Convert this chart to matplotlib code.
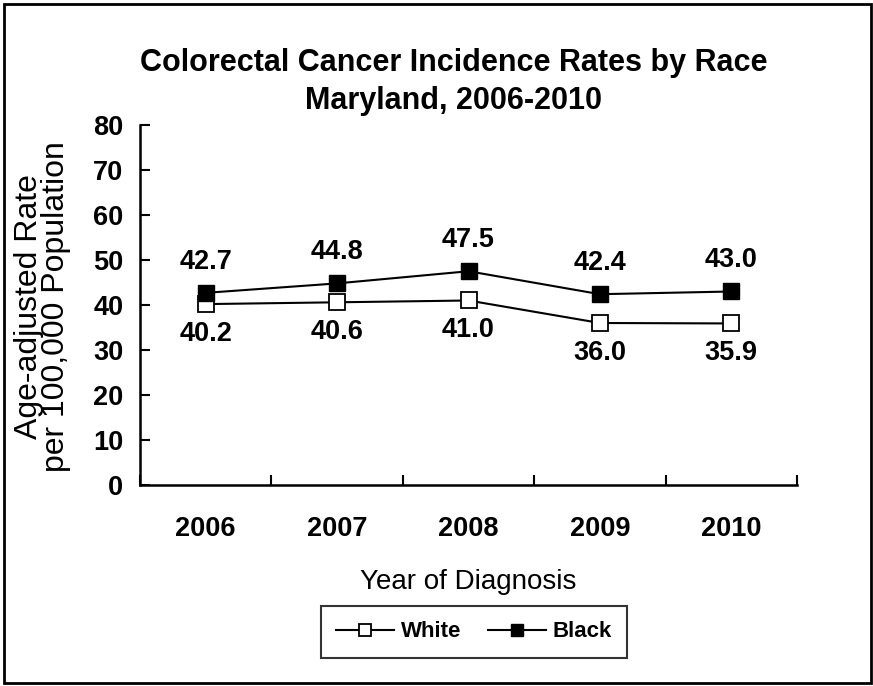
import matplotlib
matplotlib.use("Agg")
import matplotlib.pyplot as plt
import numpy as np
from matplotlib.patches import Rectangle

years = ["2006", "2007", "2008", "2009", "2010"]
white = [40.2, 40.6, 41.0, 36.0, 35.9]
black = [42.7, 44.8, 47.5, 42.4, 43.0]
y_ticks = [0, 10, 20, 30, 40, 50, 60, 70, 80]

FONT = ["Liberation Sans", "DejaVu Sans"]
plt.rcParams["font.family"] = FONT

fig = plt.figure(figsize=(8.73, 6.86), dpi=100)
ax = fig.add_axes([0.1604, 0.2930, 0.7526, 0.5248])

x = np.arange(len(years))
ax.plot(x, white, color="black", linewidth=1.5, marker="s", markersize=11,
        markerfacecolor="white", markeredgecolor="black", markeredgewidth=1.3,
        label="White", zorder=3)
ax.plot(x, black, color="black", linewidth=1.5, marker="s", markersize=11,
        markerfacecolor="black", markeredgecolor="black",
        label="Black", zorder=4)

# value labels: Black above the line, White below
for xi, v in zip(x, black):
    ax.annotate(f"{v:.1f}", (xi, v), xytext=(0, 13), textcoords="offset points",
                ha="center", va="bottom", fontsize=19.5, fontweight="bold")
for xi, v in zip(x, white):
    ax.annotate(f"{v:.1f}", (xi, v), xytext=(0, -12), textcoords="offset points",
                ha="center", va="top", fontsize=19.5, fontweight="bold")

ax.set_xlim(-0.5, len(years) - 0.5)
ax.set_ylim(0, 80)
ax.set_yticks(y_ticks)
ax.set_yticklabels([str(t) for t in y_ticks], fontsize=19.5, fontweight="bold")
ax.set_xticks(x)
ax.set_xticklabels(years, fontsize=19.5, fontweight="bold")
ax.set_xticks(np.arange(-0.5, len(years)), minor=True)

ax.tick_params(axis="y", direction="in", length=7, width=1.5, pad=12)
ax.tick_params(axis="x", which="major", length=0, pad=22)
ax.tick_params(axis="x", which="minor", direction="in", length=7, width=1.5)

for side in ("top", "right"):
    ax.spines[side].set_visible(False)
for side in ("left", "bottom"):
    ax.spines[side].set_linewidth(1.8)

ax.set_xlabel("Year of Diagnosis", fontsize=20, labelpad=20)
fig.text(0.049, 0.553, "Age-adjusted Rate\nper 100,000 Population",
         rotation=90, ha="center", va="center", fontsize=23,
         linespacing=0.86, multialignment="center")

fig.text(0.52, 0.881, "Colorectal Cancer Incidence Rates by Race\nMaryland, 2006-2010",
         ha="center", va="center", fontsize=22, fontweight="bold",
         linespacing=1.35)

leg = fig.legend(loc="center", bbox_to_anchor=(0.543, 0.079),
                 bbox_transform=fig.transFigure, ncol=2, frameon=True,
                 fancybox=False, edgecolor="black",
                 prop={"size": 16, "weight": "bold"},
                 handlelength=2.6, handletextpad=0.3, columnspacing=1.2,
                 borderpad=0.7, markerscale=0.8)
leg.get_frame().set_linewidth(1.5)

fig.patches.append(Rectangle((4 / 873, 3 / 686), 867 / 873, 679 / 686,
                             transform=fig.transFigure, fill=False,
                             edgecolor="black", linewidth=2))

fig.savefig("out.png", dpi=100)
